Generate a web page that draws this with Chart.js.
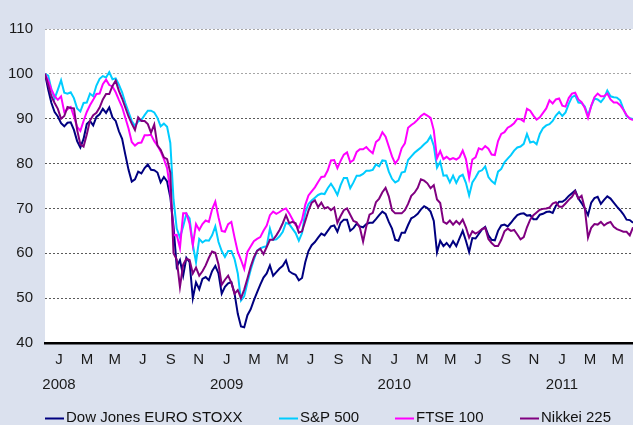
<!DOCTYPE html>
<html>
<head>
<meta charset="utf-8">
<script src="https://cdn.jsdelivr.net/npm/chart.js@4"></script>
<style>
html,body{margin:0;padding:0;background:#dbe1ee;}
#wrap{width:633px;height:425px;}
</style>
</head>
<body>
<div id="wrap"><canvas id="c" width="633" height="425"></canvas></div>
<script>
// ---- data (weekly index levels, start = 100) ----
const seriesNames = ['Dow Jones EURO STOXX', 'S&P 500', 'FTSE 100', 'Nikkei 225'];

const dowJones = [100,96.5,93.5,91.5,90.5,89,88.3,89.1,89.2,87.5,
85,83.6,85.5,88.8,89.5,88.5,90.4,91,92.2,91.3,
92.5,90.3,89.5,87.2,85.5,82,78.6,76,76.5,78.2,
77.8,79,79.8,78.6,78.5,78,75.8,77,76,72.5,
66,57,58.5,55,59,58,50,53.5,52,54.3,
54.7,54,56,57.2,55.5,51,52.5,53.3,53.6,51,
46.5,43.7,43.5,46.2,47.5,49.5,51.3,53,54.6,55.5,
57.3,55,55.8,56.6,57.2,58.4,56,55.5,55.2,54,
54.5,58,60.5,61.8,62.5,63.5,64.4,64,65,66,
66.2,64.8,66.8,67.5,67.5,65,65.6,66.6,66,65.8,
66.5,66.8,66.8,67.6,68.5,69.3,68.8,67,65.5,63,
62.8,64.6,64.6,66.3,67.8,68.2,68.8,69.8,70.5,70.1,
69.3,67.2,60.2,62.8,61.6,62.3,61.4,62.7,61.6,63.3,
65,62.8,60.3,63.4,63.3,64.3,65.3,65.9,64,63,
62.9,65,66.2,66.4,66,66.8,67.7,68.5,68.8,68.9,
68.4,68.5,67.6,67.6,68.6,68.8,69.2,69.3,69,70.6,
71.5,71.5,72,72.8,73.4,74,72.2,71.2,70,68.5,
71.3,72.3,72.6,71,71.9,72.7,72.2,71.3,70.4,69.6,
68.7,67.5,67.4,66.8];

const sp500 = [100,99.6,96.5,94.5,96.5,98.6,95.8,95.6,95.9,94.6,
92.3,91.6,93.5,93.6,95.6,95,97.4,98.9,99.5,99.2,
100.4,98.8,99,97.6,95.9,93.5,91.5,89.5,88.4,89.4,
89.7,90.8,91.8,91.8,91.4,90.2,88.3,88.9,88.2,84.6,
72,65.5,63.5,66,68.8,67.8,62,58,63.2,62.4,
62.9,62.8,64,66,62.5,60.5,59.2,60.5,60.5,58.7,
55.5,49.5,50.4,53.5,56.3,58.6,60.6,61.1,61.4,61.6,
65.5,63,63.1,63.8,64.8,66.8,66.5,65.5,64.5,62.8,
64.5,69.2,71,71.8,72.4,73,73.3,73.2,74.5,75.5,
74.4,73,75.2,76.8,76.8,74.5,75.8,77.3,77.3,77.7,
78.4,78.4,78.6,79.8,79.4,80.7,80.6,78.2,76.6,75.8,
76.2,78,78.2,80.8,81.6,82.4,83,83.6,84.3,84.9,
86.1,84,79.1,80.4,77.3,77.4,75.8,77.3,75.7,77.1,
77.5,75.7,72.9,75.8,76.9,78.2,78.5,79.4,77,76.1,
75.5,78.2,78.8,80.3,81.1,81.9,82.9,83.6,83.8,84.4,
86.6,84.7,84.9,84.3,86.6,87.9,88.5,88.8,89.5,90.7,
91.5,90.6,91.4,93.3,94.8,95.2,93.6,93.5,92.7,90.7,
92.8,94.5,94.3,93.7,94.6,96.3,95,94.8,94.7,94.1,
92.2,90.6,90.1,89.9];

const ftse100 = [100,98.5,96.5,95,94.2,95,91.5,92.1,92.6,90.5,
88.2,87.3,89.5,91.5,93,94.2,95.5,95.6,97.7,98.7,
97.5,97.2,95.9,94.2,92.6,90.2,87.8,84.8,84,84.6,
84.7,86.3,86.3,86.4,85,84,82.7,81,79,74,
64,64.1,61.2,68.9,68.9,66.6,61.8,66.5,65.2,66.5,
67.3,67,69.8,71.5,68,65,64.8,66.5,67,63.5,
60.3,58.5,56.5,60.3,61.5,62.7,63.2,63.6,65,66.2,
68.5,69.3,68.8,69.2,69.7,70,68.9,67.6,66.3,65.7,
67.5,70.8,72.9,73.8,74.7,75.9,77,77.1,78.5,80.7,
80.8,79,80.6,82,82.5,80.3,80.8,82.6,83.2,83.2,
83.7,82.9,82.3,84.8,85.4,87,86,83.8,81.6,80,
81,83.4,84.5,88,88.6,89.1,89.8,90.6,91.1,90.7,
90.2,87.4,81.2,82.8,81,81.5,80.9,81.2,80.9,81.4,
82.9,81,76.8,80.9,81.4,83.4,83.1,83.9,83.3,82,
81.9,85,86.6,87,88,88.4,89,90,89.9,89.4,
92.2,91.8,90.7,89.8,90.3,91.3,92.3,94.1,93.4,94.3,
94.5,92.9,92.7,94.6,95.6,95.8,94.3,93.7,92.4,90.2,
92.9,94.8,95.6,95,95,95.6,94.3,93.6,93.6,93,
92,90.8,90,89.7];

const nikkei225 = [100,97.5,95,93.5,92.2,90,90.6,92.6,92.4,92.3,
87.5,84.3,83.8,86.5,89.6,90.8,91.3,92.5,94.3,95.5,
95.5,97.3,98.5,96.2,94.5,92.5,90.5,88.9,87.5,90.3,
89.5,89.5,88.8,86.9,88.7,84,83.1,81.4,81,78,
60,58.6,52.5,57.5,58.8,58.5,55.5,56.8,55,56,
57.3,59,60.4,60.1,57.5,53,54.1,55,53.4,51,
51.8,50,51.9,54.4,57,59.1,60.5,61,59.8,61.4,
63,63,64,65.2,66.7,68.5,66.7,67,66.7,64.6,
64.9,67.2,69.5,71.3,71.8,70.3,71.3,70,70.3,69.6,
70.2,66.8,68.3,69.6,70,68.6,67.2,66.9,65.7,62.6,
66,68.6,69,71.4,72.2,73.6,74.6,72.7,69.6,68.9,
68.9,68.9,69.6,71,72.8,73.5,74.6,76.5,76.2,75.6,
74.5,75.2,72,71.2,67,66.6,67.3,66.4,67.2,66.5,
67.5,65.8,63.5,64.9,64.4,64.8,65.4,65.7,63.2,62.3,
61.6,61.6,63,64.9,65.5,65,65.2,64.2,63.1,63.6,
65.8,67.5,68.5,69.1,69.7,69.9,70,70.2,71.1,71.4,
70.4,70.4,71.1,71.9,72.6,73.8,72.2,72.8,70,63.5,
65.7,66.5,66.4,67,66.2,66.7,67,65.9,65.4,65.1,
64.8,64.8,64,65.8];

const monthInitials = ['J','F','M','A','M','J','J','A','S','O','N','D'];
const startYear = 2008;
const yMin = 40, yMax = 110, yStep = 10;

// ---- layout / style ----
const FONT = '"Liberation Sans", Arial, Helvetica, sans-serif';
const colors = ['#000080', '#00ccff', '#ff00ff', '#800080'];
const weeksPerMonth = 365.25 / 12 / 7;
const lastIndex = dowJones.length - 1;

// month-centre tick positions (every second month from January 2008)
const tickMonths = [];
for (let m = 0; (m + 1) * weeksPerMonth <= lastIndex; m += 2) tickMonths.push(m);
const tickWeeks = tickMonths.map(m => (m + 1) * weeksPerMonth);
const tickLabels = tickMonths.map(m => m % 12 === 0
  ? [monthInitials[m % 12], String(startYear + m / 12)]
  : monthInitials[m % 12]);

const toPoints = arr => arr.map((v, i) => ({x: i, y: v}));
const allSeries = [dowJones, sp500, ftse100, nikkei225];

const plotBg = {
  id: 'plotBg',
  beforeDraw(chart) {
    const {ctx, chartArea: a} = chart;
    ctx.save();
    ctx.fillStyle = '#dbe1ee';
    ctx.fillRect(0, 0, chart.width, chart.height);
    ctx.fillStyle = '#ffffff';
    ctx.fillRect(a.left, a.top, a.right - a.left, a.bottom - a.top);
    ctx.restore();
  }
};

const legendX = [45, 279, 395, 520];
const customLegend = {
  id: 'customLegend',
  afterDraw(chart) {
    const ctx = chart.ctx;
    const y = 418;
    ctx.save();
    ctx.font = '15px ' + FONT;
    ctx.textBaseline = 'middle';
    ctx.textAlign = 'left';
    chart.data.datasets.forEach((ds, i) => {
      const x = legendX[i];
      ctx.strokeStyle = ds.borderColor;
      ctx.lineWidth = 2;
      ctx.beginPath();
      ctx.moveTo(x, y + 0.5);
      ctx.lineTo(x + 19, y + 0.5);
      ctx.stroke();
      ctx.fillStyle = '#111111';
      ctx.fillText(ds.label, x + 21, y);
    });
    ctx.restore();
  }
};

new Chart(document.getElementById('c'), {
  type: 'line',
  data: {
    datasets: allSeries.map((arr, i) => ({
      label: seriesNames[i],
      data: toPoints(arr),
      borderColor: colors[i],
      backgroundColor: colors[i],
      borderWidth: 2,
      pointRadius: 0,
      tension: 0,
      fill: false,
      order: 4 - i
    }))
  },
  options: {
    responsive: false,
    animation: false,
    devicePixelRatio: 1,
    layout: {padding: {top: 29, right: 0, bottom: 22, left: 0}},
    plugins: {legend: {display: false}, tooltip: {enabled: false}},
    scales: {
      x: {
        type: 'linear',
        min: 0,
        max: lastIndex,
        grid: {display: false, drawTicks: false},
        border: {display: true, color: '#000000', width: 2.5},
        afterBuildTicks(scale) { scale.ticks = tickWeeks.map(v => ({value: v})); },
        afterFit(scale) { scale.height = 60; },
        ticks: {
          autoSkip: false,
          maxRotation: 0,
          padding: 4,
          color: '#1a1a1a',
          font: {size: 15, family: FONT, lineHeight: 1.667},
          callback: (v, i) => tickLabels[i]
        }
      },
      y: {
        min: yMin,
        max: yMax,
        afterFit(scale) { scale.width = 45; },
        grid: {
          drawTicks: false,
          lineWidth: 1,
          color: ctx => {
            const v = ctx.tick && ctx.tick.value;
            if (v === yMin) return 'rgba(0,0,0,0)';
            return v >= 100 ? '#a6a6a6' : '#5a5a5a';
          }
        },
        border: {display: false, dash: [2, 2]},
        ticks: {
          stepSize: yStep,
          padding: 12,
          color: '#1a1a1a',
          font: {size: 15, family: FONT}
        }
      }
    }
  },
  plugins: [plotBg, customLegend]
});
</script>
</body>
</html>
